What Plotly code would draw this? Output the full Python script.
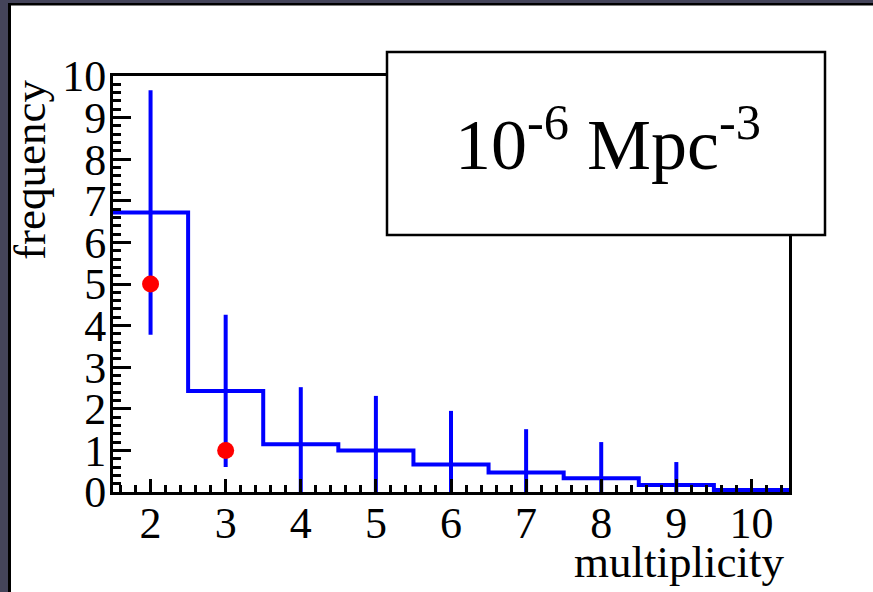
import plotly.graph_objects as go

# Simulated multiplicity distribution (step histogram with error bars)
multiplicity = [2, 3, 4, 5, 6, 7, 8, 9, 10]
bin_edges = [1.5, 2.5, 3.5, 4.5, 5.5, 6.5, 7.5, 8.5, 9.5, 10.5]
sim_freq = [6.72, 2.43, 1.15, 1.00, 0.66, 0.47, 0.33, 0.17, 0.05]
sim_err = [2.94, 1.83, 1.37, 1.31, 1.29, 1.04, 0.87, 0.55, 0.0]

# Observed counts
obs_mult = [2, 3]
obs_freq = [5, 1]

y_ticks = list(range(0, 11))
x_ticks = list(range(2, 11))

SERIF = "Liberation Serif"
BLUE = "#0000ff"
RED = "#ff0000"

W, H = 873, 592
L, R, T, B = 113, 84, 76, 100
PW, PH = W - L - R, H - T - B


def px_x(p):
    return (p - L) / PW


def px_y(p):
    return (H - B - p) / PH


fig = go.Figure()

# histogram outline
fig.add_trace(go.Scatter(
    x=bin_edges,
    y=sim_freq + [sim_freq[-1]],
    mode="lines",
    line=dict(color=BLUE, width=4, shape="hv"),
    hoverinfo="skip",
    showlegend=False,
))

# vertical error bars at bin centres
fig.add_trace(go.Scatter(
    x=multiplicity,
    y=sim_freq,
    mode="markers",
    marker=dict(size=1, color=BLUE, opacity=0),
    error_y=dict(type="data", array=sim_err, visible=True,
                 color=BLUE, thickness=4, width=0),
    showlegend=False,
))

# observed points
fig.add_trace(go.Scatter(
    x=obs_mult,
    y=obs_freq,
    mode="markers",
    marker=dict(size=17, color=RED, line=dict(width=0)),
    showlegend=False,
))

axis_common = dict(
    showgrid=False,
    zeroline=False,
    showline=True,
    linecolor="black",
    linewidth=3,
    mirror=True,
    ticks="inside",
    tickcolor="black",
    tickwidth=3,
    tickfont=dict(family=SERIF, size=44, color="black"),
)

fig.update_xaxes(
    range=[1.5, 10.5],
    tickmode="array",
    tickvals=x_ticks,
    ticktext=[str(v) for v in x_ticks],
    ticklen=13,
    minor=dict(ticks="inside", ticklen=7, tickwidth=3, dtick=0.2, tick0=0,
               tickcolor="black", showgrid=False),
    ticklabelstandoff=-10,
    **axis_common,
)
fig.update_yaxes(
    range=[0, 10],
    tickmode="array",
    tickvals=y_ticks,
    ticktext=[str(v) for v in y_ticks],
    ticklen=18,
    minor=dict(ticks="inside", ticklen=8, tickwidth=3, dtick=0.2, tick0=0,
               tickcolor="black", showgrid=False),
    ticklabelstandoff=-5,
    **axis_common,
)

shapes = [
    # dark frame on the left and top edges of the canvas
    dict(type="rect", xref="paper", yref="paper", layer="above",
         x0=px_x(0), x1=px_x(8), y0=px_y(H), y1=px_y(0),
         fillcolor="#44445a", line=dict(width=0)),
    dict(type="rect", xref="paper", yref="paper", layer="above",
         x0=px_x(8), x1=px_x(11), y0=px_y(H), y1=px_y(0),
         fillcolor="#000000", line=dict(width=0)),
    dict(type="rect", xref="paper", yref="paper", layer="above",
         x0=px_x(0), x1=px_x(W), y0=px_y(3), y1=px_y(0),
         fillcolor="#44445a", line=dict(width=0)),
    dict(type="rect", xref="paper", yref="paper", layer="above",
         x0=px_x(8), x1=px_x(W), y0=px_y(5.5), y1=px_y(3),
         fillcolor="#000000", line=dict(width=0)),
    # label box
    dict(type="rect", xref="paper", yref="paper", layer="above",
         x0=px_x(387), x1=px_x(825), y0=px_y(235), y1=px_y(52),
         fillcolor="white", line=dict(color="black", width=2.5)),
]

annotations = [
    dict(text="10<sup>-6</sup> Mpc<sup>-3</sup>", xref="paper", yref="paper",
         x=px_x(608), y=px_y(139), xanchor="center", yanchor="middle",
         showarrow=False, font=dict(family=SERIF, size=72, color="black")),
    dict(text="multiplicity", xref="paper", yref="paper",
         x=px_x(786), y=px_y(562), xanchor="right", yanchor="middle",
         showarrow=False, font=dict(family=SERIF, size=45, color="black")),
    dict(text="frequency", xref="paper", yref="paper", textangle=-90,
         x=px_x(30), y=px_y(170), xanchor="center", yanchor="middle",
         showarrow=False, font=dict(family=SERIF, size=45, color="black")),
]

fig.update_layout(
    width=W,
    height=H,
    margin=dict(l=L, r=R, t=T, b=B, pad=0),
    paper_bgcolor="white",
    plot_bgcolor="white",
    shapes=shapes,
    annotations=annotations,
    showlegend=False,
)

fig.write_html("out.html")
